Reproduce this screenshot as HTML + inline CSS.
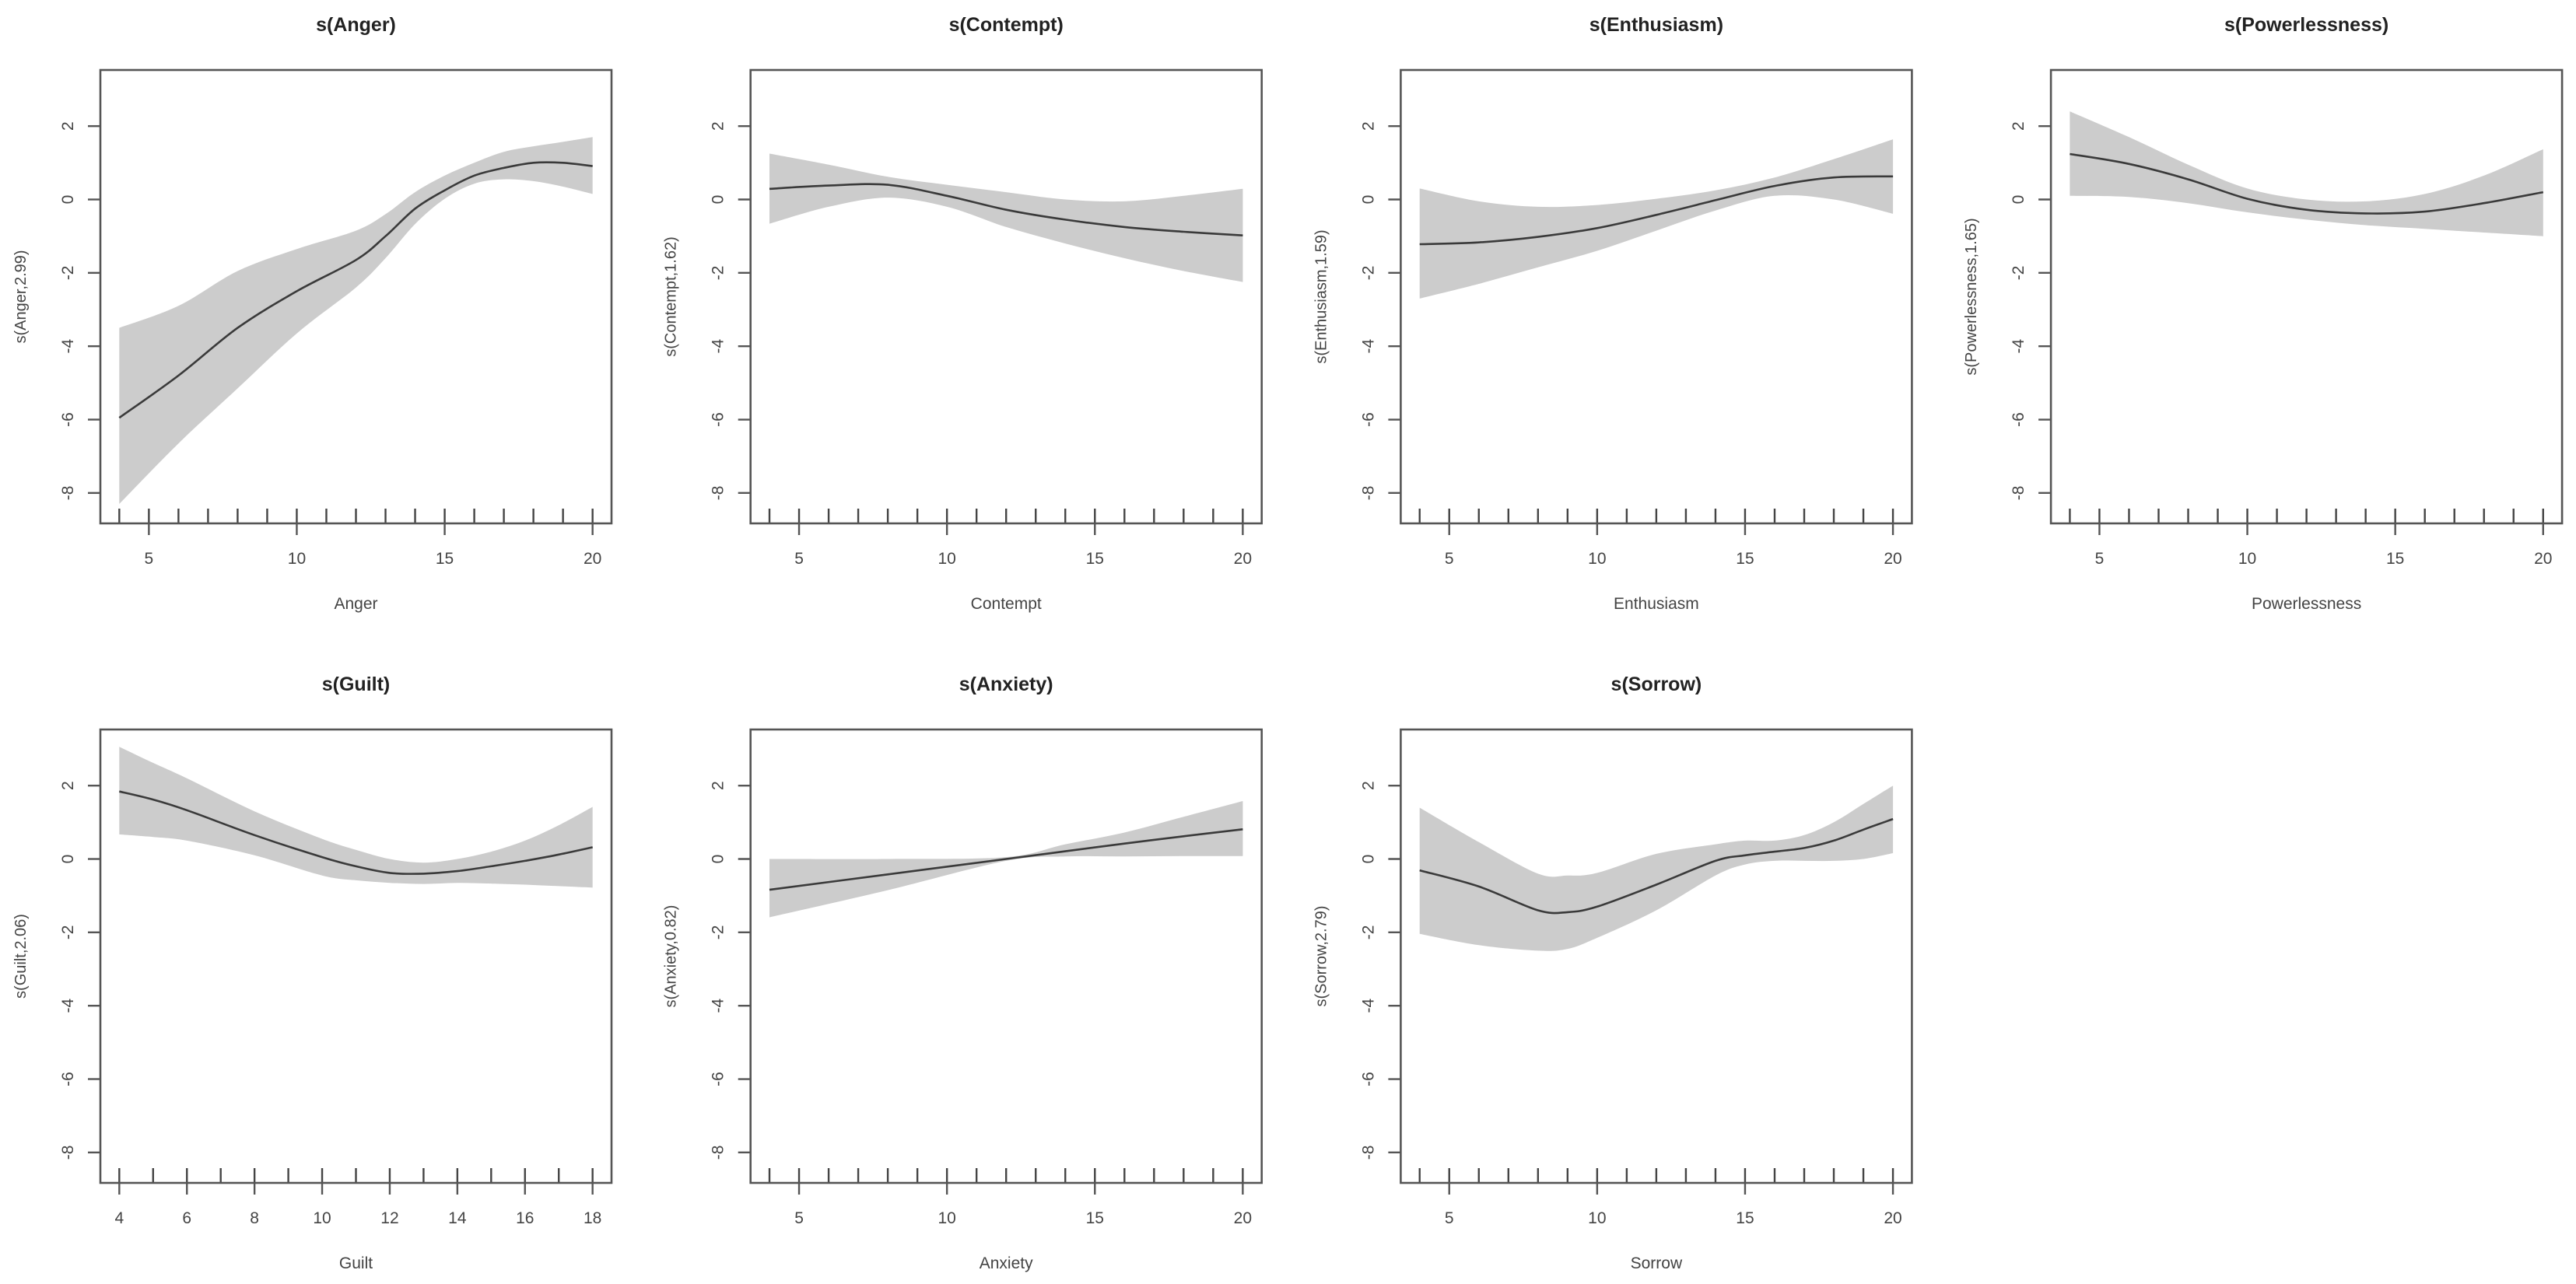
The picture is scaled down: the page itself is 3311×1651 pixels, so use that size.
<!DOCTYPE html>
<html><head><meta charset="utf-8"><style>
html,body{margin:0;padding:0;background:#fff;}
svg{display:block;font-family:"Liberation Sans",Arial,sans-serif;}
</style></head><body>
<svg id="fig" width="3311" height="1651" viewBox="0 0 3311 1651" xmlns="http://www.w3.org/2000/svg"></svg>
<script>
// ---- data ----
const panelNames = ["Anger","Contempt","Enthusiasm","Powerlessness","Guilt","Anxiety","Sorrow"];
const panelEdf = ["2.99","1.62","1.59","1.65","2.06","0.82","2.79"];
const xMins = [4,4,4,4,4,4,4];
const xMaxs = [20,20,20,20,18,20,20];
const xTickLabels20 = [5,10,15,20];
const xTickLabels18 = [4,6,8,10,12,14,16,18];
const yTickLabels = [2,0,-2,-4,-6,-8];

const angerX = [4,6,8,10,12,13,14,15,16,17,18,19,20];
const angerFit = [-5.95,-4.8,-3.5,-2.5,-1.65,-1.0,-0.25,0.25,0.65,0.86,1.0,1.0,0.91];
const angerUp = [-3.5,-2.9,-1.95,-1.35,-0.85,-0.4,0.2,0.65,1.0,1.3,1.45,1.57,1.7];
const angerLo = [-8.3,-6.65,-5.15,-3.65,-2.4,-1.6,-0.67,0.02,0.43,0.55,0.5,0.35,0.15];

const contemptX = [4,6,8,10,12,14,16,18,20];
const contemptFit = [0.29,0.38,0.4,0.1,-0.28,-0.55,-0.75,-0.88,-0.98];
const contemptUp = [1.25,0.95,0.62,0.4,0.2,0.0,-0.05,0.1,0.29];
const contemptLo = [-0.66,-0.2,0.05,-0.2,-0.75,-1.2,-1.6,-1.95,-2.25];

const enthusiasmX = [4,6,8,10,12,14,16,18,20];
const enthusiasmFit = [-1.22,-1.17,-1.02,-0.78,-0.42,-0.02,0.37,0.6,0.63];
const enthusiasmUp = [0.3,-0.05,-0.2,-0.15,0.02,0.25,0.6,1.1,1.64];
const enthusiasmLo = [-2.7,-2.3,-1.85,-1.4,-0.85,-0.3,0.1,0.0,-0.39];

const powerlessnessX = [4,6,8,10,12,14,16,18,20];
const powerlessnessFit = [1.24,0.97,0.55,0.02,-0.28,-0.38,-0.33,-0.1,0.2];
const powerlessnessUp = [2.4,1.7,0.95,0.3,0.0,-0.05,0.15,0.65,1.37];
const powerlessnessLo = [0.1,0.07,-0.1,-0.35,-0.55,-0.7,-0.8,-0.9,-1.0];

const guiltX = [4,5,6,8,10,11,12,13,14,15,16,17,18];
const guiltFit = [1.84,1.62,1.33,0.65,0.05,-0.2,-0.38,-0.4,-0.33,-0.2,-0.05,0.12,0.32];
const guiltUp = [3.06,2.62,2.2,1.3,0.55,0.25,0.0,-0.1,0.0,0.2,0.5,0.92,1.42];
const guiltLo = [0.67,0.6,0.5,0.1,-0.45,-0.58,-0.65,-0.68,-0.65,-0.67,-0.7,-0.74,-0.78];

const anxietyX = [4,8,12,14,16,18,20];
const anxietyFit = [-0.84,-0.42,0.0,0.21,0.42,0.62,0.81];
const anxietyUp = [0.0,0.0,0.05,0.4,0.72,1.15,1.58];
const anxietyLo = [-1.59,-0.85,-0.05,0.07,0.07,0.08,0.08];

const sorrowX = [4,6,8,9,10,12,14,15,16,17,18,19,20];
const sorrowFit = [-0.31,-0.75,-1.4,-1.45,-1.3,-0.7,-0.05,0.1,0.2,0.3,0.5,0.8,1.09];
const sorrowUp = [1.4,0.46,-0.4,-0.45,-0.38,0.14,0.4,0.5,0.5,0.65,1.0,1.5,2.0];
const sorrowLo = [-2.04,-2.35,-2.5,-2.45,-2.15,-1.4,-0.45,-0.15,-0.05,-0.05,-0.05,0.0,0.16];

const seriesX = [angerX,contemptX,enthusiasmX,powerlessnessX,guiltX,anxietyX,sorrowX];
const seriesFit = [angerFit,contemptFit,enthusiasmFit,powerlessnessFit,guiltFit,anxietyFit,sorrowFit];
const seriesUp = [angerUp,contemptUp,enthusiasmUp,powerlessnessUp,guiltUp,anxietyUp,sorrowUp];
const seriesLo = [angerLo,contemptLo,enthusiasmLo,powerlessnessLo,guiltLo,anxietyLo,sorrowLo];

// ---- layout ----
const NS = "http://www.w3.org/2000/svg";
const svg = document.getElementById("fig");
const Y_MIN = -8.83, Y_MAX = 3.53;
function mk(tag, attrs, parent){
  const e = document.createElementNS(NS, tag);
  for (const k in attrs) e.setAttribute(k, attrs[k]);
  (parent||svg).appendChild(e);
  return e;
}
function smoothPath(pts){
  let d = "M" + pts[0][0].toFixed(1) + "," + pts[0][1].toFixed(1);
  for (let i=0;i<pts.length-1;i++){
    const p0 = pts[Math.max(0,i-1)], p1 = pts[i], p2 = pts[i+1], p3 = pts[Math.min(pts.length-1,i+2)];
    const c1x = p1[0]+(p2[0]-p0[0])/6, c1y = p1[1]+(p2[1]-p0[1])/6;
    const c2x = p2[0]-(p3[0]-p1[0])/6, c2y = p2[1]-(p3[1]-p1[1])/6;
    d += " C"+c1x.toFixed(1)+","+c1y.toFixed(1)+" "+c2x.toFixed(1)+","+c2y.toFixed(1)+" "+p2[0].toFixed(1)+","+p2[1].toFixed(1);
  }
  return d;
}
function curveSeg(pts){ return smoothPath(pts).replace(/^M/, "L"); }

for (let p=0;p<panelNames.length;p++){
  const col = p % 4, row = Math.floor(p/4);
  const L = 129 + col*835.7, W = 657;
  const T = 90 + row*848, B = 673 + row*848;
  const xmin = xMins[p], xmax = xMaxs[p];
  const pad = (xmax-xmin)*0.04;
  const xs = v => L + (v-(xmin-pad))/((xmax+pad)-(xmin-pad))*W;
  const ys = v => B - (v-Y_MIN)/(Y_MAX-Y_MIN)*(B-T);
  const name = panelNames[p], key = name.toLowerCase();
  const g = mk("g", {});
  
  

  const X = seriesX[p];
  const up = X.map((x,i)=>[xs(x), ys(seriesUp[p][i])]);
  const lo = X.map((x,i)=>[xs(x), ys(seriesLo[p][i])]).reverse();
  const band = mk("path", {d: smoothPath(up) + " " + curveSeg(lo) + " Z", fill:"#cccccc", stroke:"none"}, g);
  
  
  const fit = mk("path", {d: smoothPath(X.map((x,i)=>[xs(x), ys(seriesFit[p][i])])), fill:"none", stroke:"#3a3a3a", "stroke-width":2.6}, g);
  
  

  for (let v=xmin; v<=xmax; v++){
    const r = mk("line", {x1:xs(v), x2:xs(v), y1:B-19, y2:B, stroke:"#444", "stroke-width":2.4}, g);
    
    
  }
  const box = mk("rect", {x:L, y:T, width:W, height:B-T, fill:"none", stroke:"#555", "stroke-width":2.6}, g);
  
  

  const xt = (xmax===18) ? xTickLabels18 : xTickLabels20;
  xt.forEach(v=>{
    const t = mk("line", {x1:xs(v), x2:xs(v), y1:B, y2:B+15, stroke:"#555", "stroke-width":2.4}, g);
    
    
    const tl = mk("text", {x:xs(v), y:B+52, "text-anchor":"middle", "font-size":21, fill:"#444"}, g);
    tl.textContent = v;
    
    
  });
  yTickLabels.forEach(v=>{
    const t = mk("line", {x1:L-16, x2:L, y1:ys(v), y2:ys(v), stroke:"#555", "stroke-width":2.4}, g);
    
    
    const tx = L-35, ty = ys(v);
    const tl = mk("text", {x:tx, y:ty, "text-anchor":"middle", "font-size":21, fill:"#444", transform:"rotate(-90 "+tx+" "+ty+")"}, g);
    tl.textContent = v;
    
    
  });
  const title = mk("text", {x:L+W/2, y:T-50, "text-anchor":"middle", "font-size":25, "font-weight":"bold", fill:"#222"}, g);
  title.textContent = "s(" + name + ")";
  
  
  const xl = mk("text", {x:L+W/2, y:B+110, "text-anchor":"middle", "font-size":21, fill:"#444"}, g);
  xl.textContent = name;
  
  
  const yx = L-96, yy = (T+B)/2;
  const yl = mk("text", {x:yx, y:yy, "text-anchor":"middle", "font-size":20, fill:"#444", transform:"rotate(-90 "+yx+" "+yy+")"}, g);
  yl.textContent = "s(" + name + "," + panelEdf[p] + ")";
  
  
}
</script>
</body></html>
